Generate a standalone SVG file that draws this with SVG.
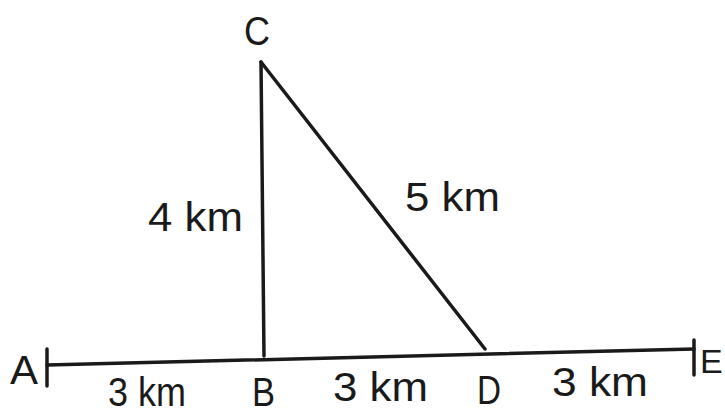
<svg xmlns="http://www.w3.org/2000/svg" width="725" height="414" viewBox="0 0 725 414">
<style>
.ln{stroke:#1a1a1a;stroke-width:3.5;fill:none;stroke-linecap:round}
.t{font-family:"Liberation Sans",Arial,sans-serif;font-size:40px;fill:#1a1a1a}
</style>
<rect width="725" height="414" fill="#fff"/>
<g id="connectors">
<line class="ln" x1="47" y1="365" x2="694" y2="349"/>
<line class="ln" x1="47" y1="349" x2="47" y2="386"/>
<line class="ln" x1="694" y1="340" x2="694" y2="375"/>
<line class="ln" x1="261" y1="62" x2="264" y2="356"/>
<line class="ln" x1="261" y1="62" x2="485" y2="349"/>
</g>
<g id="labels">
<text class="t" x="10" y="384" textLength="28" lengthAdjust="spacingAndGlyphs">A</text>
<text class="t" x="700" y="373" style="font-size:34px">E</text>
<text class="t" x="244" y="45" textLength="26" lengthAdjust="spacingAndGlyphs">C</text>
<text class="t" x="148" y="231" textLength="95" lengthAdjust="spacingAndGlyphs">4 km</text>
<text class="t" x="405" y="211" textLength="95" lengthAdjust="spacingAndGlyphs">5 km</text>
<text class="t" x="108" y="406" textLength="78" lengthAdjust="spacingAndGlyphs">3 km</text>
<text class="t" x="252" y="406" textLength="23" lengthAdjust="spacingAndGlyphs">B</text>
<text class="t" x="333" y="401" textLength="95" lengthAdjust="spacingAndGlyphs">3 km</text>
<text class="t" x="477" y="404" textLength="24" lengthAdjust="spacingAndGlyphs">D</text>
<text class="t" x="552" y="396" textLength="96" lengthAdjust="spacingAndGlyphs">3 km</text>
</g>
</svg>
